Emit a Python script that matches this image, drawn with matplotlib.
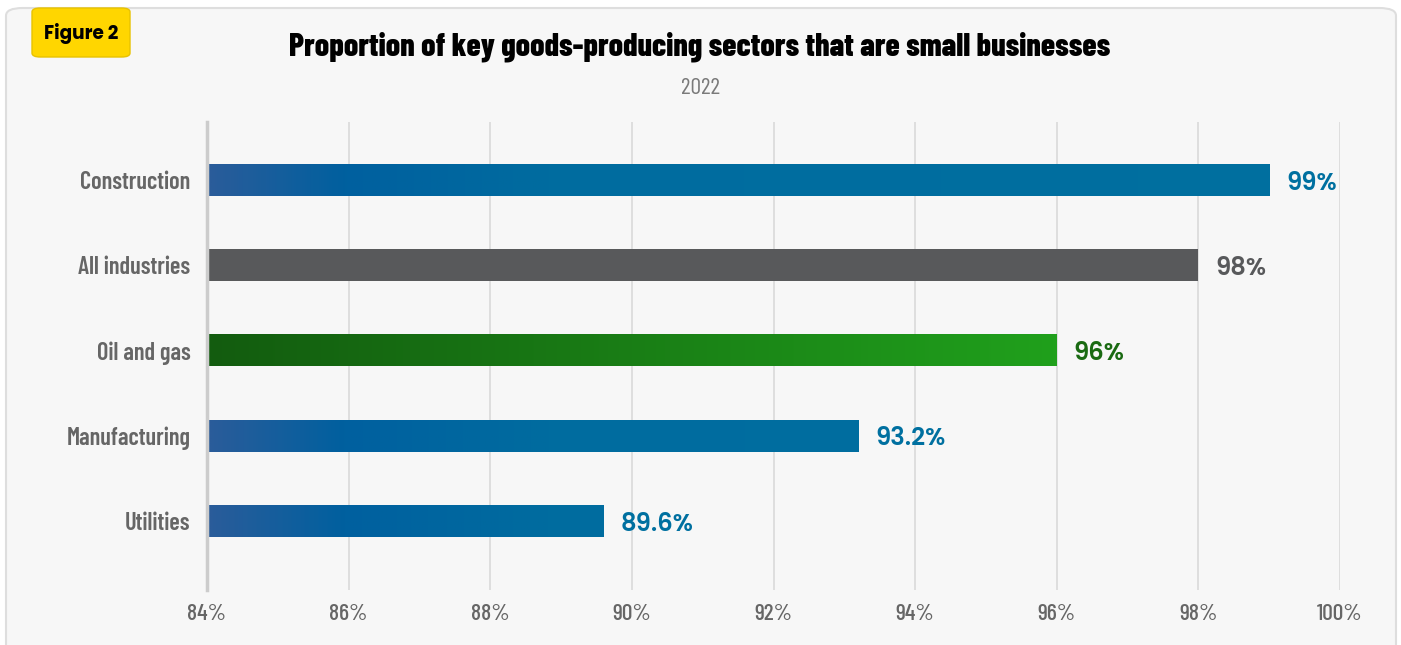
import matplotlib.pyplot as plt
import numpy as np
from matplotlib.colors import LinearSegmentedColormap
from matplotlib.patches import FancyBboxPatch

sectors = ["Construction", "All industries", "Oil and gas", "Manufacturing", "Utilities"]
shares = [99, 98, 96, 93.2, 89.6]
value_labels = ["99%", "98%", "96%", "93.2%", "89.6%"]
bar_kinds = ["blue", "gray", "green", "blue", "blue"]
x_ticks = [84, 86, 88, 90, 92, 94, 96, 98, 100]

cond = ["Barlow Condensed", "DejaVu Sans"]
round_font = ["Poppins", "DejaVu Sans"]
bg = "#f7f7f7"

# blue fades in over the first couple of points, green runs across the whole bar
blue_cmap = LinearSegmentedColormap.from_list(
    "blue", [(0, "#2a5c9a"), (0.12, "#00609f"), (0.3, "#006c9f"), (1, "#0070a0")])
green_cmap = LinearSegmentedColormap.from_list("green", ["#135c0f", "#20a01c"])
label_colors = {"blue": "#0070a0", "gray": "#58595b", "green": "#1a6a12"}

fig = plt.figure(figsize=(14.01, 6.45), dpi=100)
fig.patch.set_facecolor("white")

# rounded card behind everything
card = FancyBboxPatch((6 / 1401, -0.05), 1390 / 1401, 1 - 8 / 645 + 0.05,
                      boxstyle="round,pad=0,rounding_size=0.012",
                      transform=fig.transFigure, facecolor=bg,
                      edgecolor="#dedede", linewidth=1.5, zorder=-5)
fig.patches.append(card)

badge = FancyBboxPatch((32 / 1401, 1 - 57 / 645), 98 / 1401, 49 / 645,
                       boxstyle="round,pad=0,rounding_size=0.006",
                       transform=fig.transFigure, facecolor="#ffd600",
                       edgecolor="#e8c200", linewidth=1, zorder=1)
fig.patches.append(badge)
fig.text(81 / 1401, 1 - 34 / 645, "Figure 2", ha="center", va="center",
         fontsize=13.3, fontweight="bold", family=round_font, color="black")

fig.text(700 / 1401, 1 - 47 / 645,
         "Proportion of key goods-producing sectors that are small businesses",
         ha="center", va="center", fontsize=23, fontweight=800,
         family=cond, color="black")
fig.text(700 / 1401, 1 - 89 / 645, "2022", ha="center", va="center",
         fontsize=17, family=cond, fontweight="normal", color="#7a7a7a")

ax = fig.add_axes([207 / 1401, 1 - 590 / 645, (1340 - 207) / 1401, (590 - 122) / 645])
ax.set_facecolor(bg)

bar_h = 0.375
ypos = np.arange(len(sectors))
for y, v, kind, lab in zip(ypos, shares, bar_kinds, value_labels):
    if kind == "gray":
        ax.barh(y, v - 84, left=84, height=bar_h, color="#58595b", zorder=3)
    else:
        if kind == "blue":
            # gradient in axis units so every blue bar starts the same way
            xs = np.linspace(84, v, 300)
            grad = np.clip((xs - 84) / 16, 0, 1)
            img = blue_cmap(grad)[np.newaxis, :, :]
        else:
            img = green_cmap(np.linspace(0, 1, 300))[np.newaxis, :, :]
        ax.imshow(img, extent=[84, v, y + bar_h / 2, y - bar_h / 2],
                  aspect="auto", interpolation="bilinear", zorder=3)
    # Poppins sits high in its box, nudge the label down a touch
    ax.text(v + 0.24, y + 0.05, lab, ha="left", va="center", fontsize=17.5,
            fontweight="semibold", family=round_font, color=label_colors[kind], zorder=4)

ax.set_xlim(84, 100)
ax.set_ylim(4.81, -0.68)

ax.set_xticks(x_ticks)
ax.set_xticklabels([f"{t}%" for t in x_ticks], family=cond, fontsize=17,
                   fontweight="medium", color="#666666")
ax.set_yticks(ypos)
ax.set_yticklabels(sectors, family=cond, fontsize=17.5, fontweight="semibold", color="#666666")
ax.tick_params(axis="both", length=0)
ax.tick_params(axis="x", pad=10)
ax.tick_params(axis="y", pad=12)

ax.grid(axis="x", color="#d9d9d9", linewidth=1.2, zorder=1)
ax.set_axisbelow(True)
for side in ["top", "right", "bottom"]:
    ax.spines[side].set_visible(False)
ax.spines["left"].set_color("#cccccc")
ax.spines["left"].set_linewidth(2.5)
ax.spines["left"].set_zorder(5)

fig.savefig("out.png", dpi=100, facecolor="white")
